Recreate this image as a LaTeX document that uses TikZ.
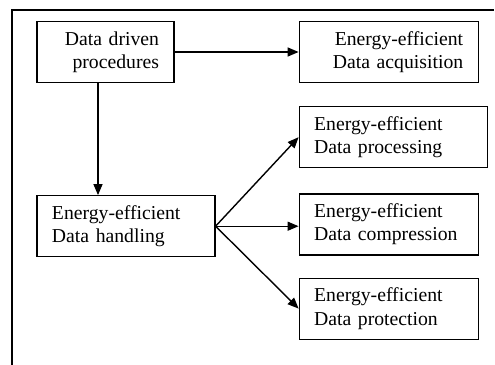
\documentclass[tikz,border=0pt]{standalone}
\usepackage{fontspec}
\setmainfont{Liberation Serif}
\usepackage{tikz}
\usetikzlibrary{positioning,arrows.meta}

\begin{document}
\begin{tikzpicture}[
  x=0.5pt, y=-0.5pt,
  box/.style={draw, line width=0.6pt, inner xsep=7.5pt, inner ysep=2pt, minimum height=30.5pt, align=left, font=\fontsize{9.85pt}{11.6pt}\selectfont},
  arrow/.style={-{Triangle[length=5.5pt,width=4.5pt]}, line width=0.7pt}
]
\useasboundingbox (0,0) rectangle (495,365);
% outer frame (cut at right and bottom)
\draw[line width=1pt] (494,10) -- (12,10) -- (12,365);

\node[box, align=right, text width=53.5pt] (drive) at (105.5,52) {Data driven\\procedures};
\node[box, align=right, text width=74.5pt, right=62pt of drive] (acq) {Energy-efficient\\Data acquisition};
\node[box, text width=74pt, below right=56pt and 0pt of drive.south west] (hand) {Energy-efficient\\Data handling};
\node[box, text width=79pt, below right=11.5pt and 0pt of acq.south west] (proc) {Energy-efficient\\Data processing};
\node[box, text width=74.5pt, below right=12.5pt and 0pt of proc.south west] (comp) {Energy-efficient\\Data compression};
\node[box, text width=74.5pt, below right=11pt and 0pt of comp.south west] (prot) {Energy-efficient\\Data protection};

\draw[arrow] (drive.east) -- (acq.west);
\draw[arrow] ([xshift=-3.75pt]drive.south) -- ([xshift=-3.75pt]drive.south |- hand.north);
\draw[arrow] (hand.east) -- (proc.west);
\draw[arrow] (hand.east) -- (hand.east -| comp.west);
\draw[arrow] (hand.east) -- (prot.west);
\end{tikzpicture}
\end{document}
